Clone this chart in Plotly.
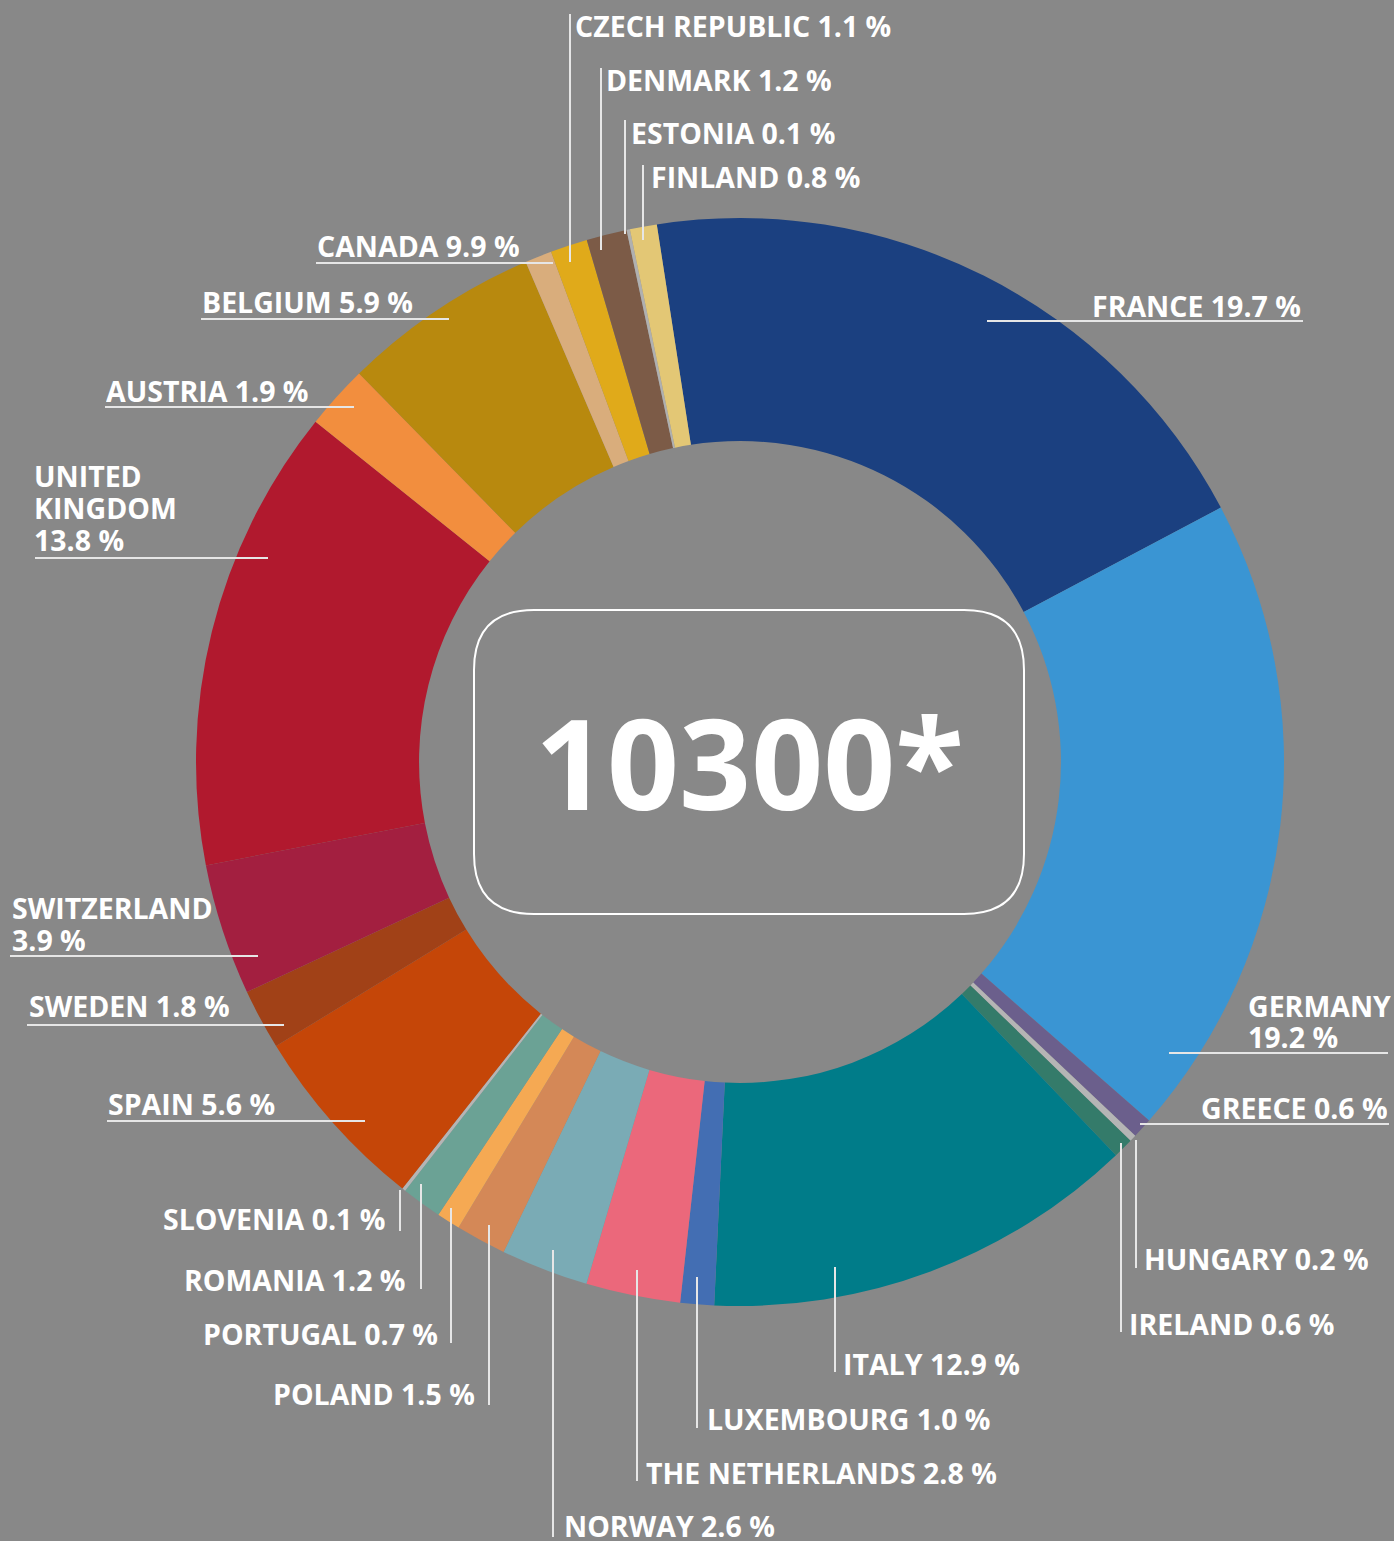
import plotly.graph_objects as go

W, H = 1394, 1541

# ---------------- data ----------------
countries = ["FRANCE", "GERMANY", "GREECE", "HUNGARY", "IRELAND", "ITALY",
             "LUXEMBOURG", "THE NETHERLANDS", "NORWAY", "POLAND", "PORTUGAL",
             "ROMANIA", "SLOVENIA", "SPAIN", "SWEDEN", "SWITZERLAND",
             "UNITED KINGDOM", "AUSTRIA", "BELGIUM", "CANADA",
             "CZECH REPUBLIC", "DENMARK", "ESTONIA", "FINLAND"]
# printed percentages (as written on the labels)
label_pct = ["19.7", "19.2", "0.6", "0.2", "0.6", "12.9", "1.0", "2.8", "2.6",
             "1.5", "0.7", "1.2", "0.1", "5.6", "1.8", "3.9", "13.8", "1.9",
             "5.9", "9.9", "1.1", "1.2", "0.1", "0.8"]
# slice sizes as drawn (Canada's slice is drawn ~0.8 although labelled 9.9)
shares = [19.7, 19.2, 0.6, 0.2, 0.6, 12.9, 1.0, 2.8, 2.6,
          1.5, 0.7, 1.2, 0.1, 5.6, 1.8, 3.9, 13.8, 1.9,
          5.9, 0.8, 1.1, 1.2, 0.1, 0.8]
colors = ["#1B4080", "#3A95D3", "#6B5F8C", "#B5B5B5", "#347B6A", "#007C89",
          "#436EB3", "#EB687B", "#7AABB5", "#D48857", "#F5A953", "#6BA295",
          "#B5B5B5", "#C54608", "#A14117", "#A31F40", "#B1192E", "#F28E3E",
          "#B8890E", "#D9AD7C", "#E0AA1A", "#7C5B47", "#B0B0B0", "#E3C775"]
center_value = "10300*"

BG = "#888888"
FONT = "Open Sans"
LINE_COL = "#E6E6E6"
LABEL_SIZE = 28.5


def px(x):
    return x / W


def py(y):
    return 1 - y / H


fig = go.Figure()
fig.add_trace(go.Pie(
    labels=countries, values=shares, sort=False, direction="clockwise",
    rotation=-8.8, hole=0.59, textinfo="none", hoverinfo="label+percent",
    marker=dict(colors=colors, line=dict(width=0)),
    domain=dict(x=[px(196), px(1284)], y=[py(1306), py(218)]),
    showlegend=False,
))

# label layout: x, [y centres], anchor, leader line
# leader line: ("h", y, x0, x1) or ("v", x, y0, y1)
layout_spec = {
    "CZECH REPUBLIC": (574, [25], "left", ("v", 570, 14, 262)),
    "DENMARK": (605, [79], "left", ("v", 601, 68, 250)),
    "ESTONIA": (630, [132], "left", ("v", 625, 120, 234)),
    "FINLAND": (650, [176], "left", ("v", 643, 165, 240)),
    "CANADA": (316, [245], "left", ("h", 263, 316, 553)),
    "BELGIUM": (201, [301], "left", ("h", 319, 201, 449)),
    "FRANCE": (1302, [305], "right", ("h", 321, 987, 1303)),
    "AUSTRIA": (105, [390], "left", ("h", 407, 105, 354)),
    "UNITED KINGDOM": (33, [475, 507, 539], "left", ("h", 558, 35, 268)),
    "SWITZERLAND": (11, [907, 939], "left", ("h", 956, 10, 258)),
    "SWEDEN": (28, [1005], "left", ("h", 1025, 27, 284)),
    "SPAIN": (107, [1103], "left", ("h", 1121, 107, 365)),
    "GERMANY": (1247, [1005, 1036], "left", ("h", 1053, 1169, 1388)),
    "GREECE": (1389, [1107], "right", ("h", 1124, 1140, 1389)),
    "HUNGARY": (1143, [1258], "left", ("v", 1136, 1140, 1268)),
    "IRELAND": (1128, [1323], "left", ("v", 1121, 1143, 1332)),
    "ITALY": (842, [1363], "left", ("v", 835, 1267, 1372)),
    "LUXEMBOURG": (706, [1418], "left", ("v", 697, 1277, 1428)),
    "THE NETHERLANDS": (645, [1472], "left", ("v", 637, 1270, 1481)),
    "NORWAY": (563, [1525], "left", ("v", 553, 1250, 1537)),
    "SLOVENIA": (386, [1218], "right", ("v", 400, 1190, 1231)),
    "ROMANIA": (407, [1279], "right", ("v", 421, 1184, 1289)),
    "PORTUGAL": (439, [1333], "right", ("v", 451, 1208, 1343)),
    "POLAND": (476, [1393], "right", ("v", 489, 1225, 1405)),
}
line_breaks = {
    "UNITED KINGDOM": ["UNITED", "KINGDOM", "{p} %"],
    "SWITZERLAND": ["SWITZERLAND", "{p} %"],
    "GERMANY": ["GERMANY", "{p} %"],
}

annotations = []
shapes = []
for name, pct in zip(countries, label_pct):
    x, ys, anchor, leader = layout_spec[name]
    if name in line_breaks:
        lines = [s.format(p=pct) for s in line_breaks[name]]
    else:
        lines = [f"{name} {pct} %"]
    for txt, yc in zip(lines, ys):
        annotations.append(dict(
            x=px(x), y=py(yc + 1), xref="paper", yref="paper",
            text=txt, showarrow=False, xanchor=anchor, yanchor="middle",
            borderpad=0, height=30, valign="middle",
            font=dict(family=FONT, size=LABEL_SIZE, color="white", weight="bold"),
        ))
    if leader[0] == "h":
        _, yy, x0, x1 = leader
        shapes.append(dict(type="line", xref="paper", yref="paper",
                           x0=px(x0), x1=px(x1), y0=py(yy), y1=py(yy),
                           line=dict(color=LINE_COL, width=2)))
    else:
        _, xx, y0, y1 = leader
        shapes.append(dict(type="line", xref="paper", yref="paper",
                           x0=px(xx), x1=px(xx), y0=py(y0), y1=py(y1),
                           line=dict(color=LINE_COL, width=2)))

# rounded rectangle in the centre
L, T, R_, B, rr = 474, 610, 1024, 914, 60


def P(x, y):
    return f"{px(x):.6f},{py(y):.6f}"


path = (f"M {P(L + rr, T)} L {P(R_ - rr, T)} Q {P(R_, T)} {P(R_, T + rr)} "
        f"L {P(R_, B - rr)} Q {P(R_, B)} {P(R_ - rr, B)} "
        f"L {P(L + rr, B)} Q {P(L, B)} {P(L, B - rr)} "
        f"L {P(L, T + rr)} Q {P(L, T)} {P(L + rr, T)} Z")
shapes.append(dict(type="path", xref="paper", yref="paper", path=path,
                   line=dict(color="white", width=2)))

annotations.append(dict(
    x=px(750), y=py(761), xref="paper", yref="paper", text=center_value,
    showarrow=False, xanchor="center", yanchor="middle",
    font=dict(family=FONT, size=126, color="white", weight="bold"),
))

fig.update_layout(
    width=W, height=H, paper_bgcolor=BG, plot_bgcolor=BG,
    margin=dict(l=0, r=0, t=0, b=0),
    annotations=annotations, shapes=shapes,
)

fig.write_html(
    "out.html",
    config={"displayModeBar": False},
    post_script=("document.body.style.margin='0';"
                 "document.body.style.padding='0';"
                 "document.body.style.background='#888888';"),
)
